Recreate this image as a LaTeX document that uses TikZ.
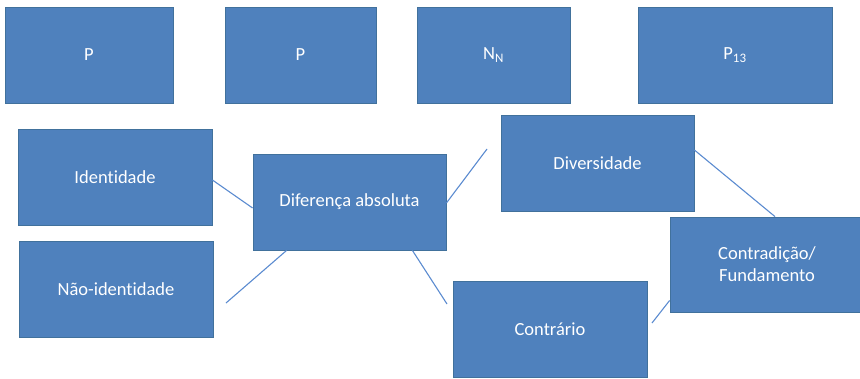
\documentclass[tikz,border=0pt]{standalone}
\usepackage{fontspec}
\setmainfont[RawFeature=-liga]{Carlito}
\usepackage{tikz}
\usetikzlibrary{calc}

\definecolor{boxblue}{HTML}{4F81BD}
\definecolor{boxedge}{HTML}{41719C}
\definecolor{linkblue}{HTML}{5B8BD0}

\tikzset{
  box/.style={draw=boxedge, line width=0.8pt, fill=boxblue, text=white,
    minimum width=194pt, minimum height=96pt, inner sep=0pt, align=center,
    font=\fontsize{18.5}{22}\selectfont},
  link/.style={draw=linkblue, line width=1.1pt}
}

\begin{document}
\begin{tikzpicture}[x=1pt,y=-1pt]
\useasboundingbox (0,0) rectangle (860,378);

% top row
\node[box, minimum width=168pt] (p1) at (89,55) {P};
\node[box, minimum width=151pt] (p2) at (300.5,55) {P};
\node[box, minimum width=153pt] (nn) at (493.5,55) {N\textsubscript{N}};
\node[box] (p13) at (735,55) {P\textsubscript{13}};

% lower part
\node[box] (iden) at (115,177) {Identidade};
\node[box] (naoid) at (116,289) {Não-identidade};
\node[box, minimum width=193pt] (dif) at (349.5,202) {Diferença absoluta};
\node[box, minimum width=193pt] (div) at (597.5,163) {Diversidade};
\node[box, minimum height=95pt] (contrad) at (767,264.5) {Contradição/\\Fundamento};
\node[box] (contr) at (550,329) {Contrário};

% loose ends
\coordinate (naoend) at (226,303);
\coordinate (divend) at (487,149);
\coordinate (contrend) at (447,304);
\coordinate (fundend) at (652,323);

% connectors
\draw[link] ($(iden.east)+(0,3)$) -- ($(dif.west)+(0,6)$);
\draw[link] ($(dif.south west)+(34,0)$) -- (naoend);
\draw[link] ($(dif.east)+(0,1)$) -- (divend);
\draw[link] ($(dif.south east)+(-34,0)$) -- (contrend);
\draw[link] ($(div.east)+(0,-13)$) -- ($(contrad.north)+(8,0)$);
\draw[link] ($(contrad.west)+(0,36)$) -- (fundend);
\end{tikzpicture}
\end{document}
